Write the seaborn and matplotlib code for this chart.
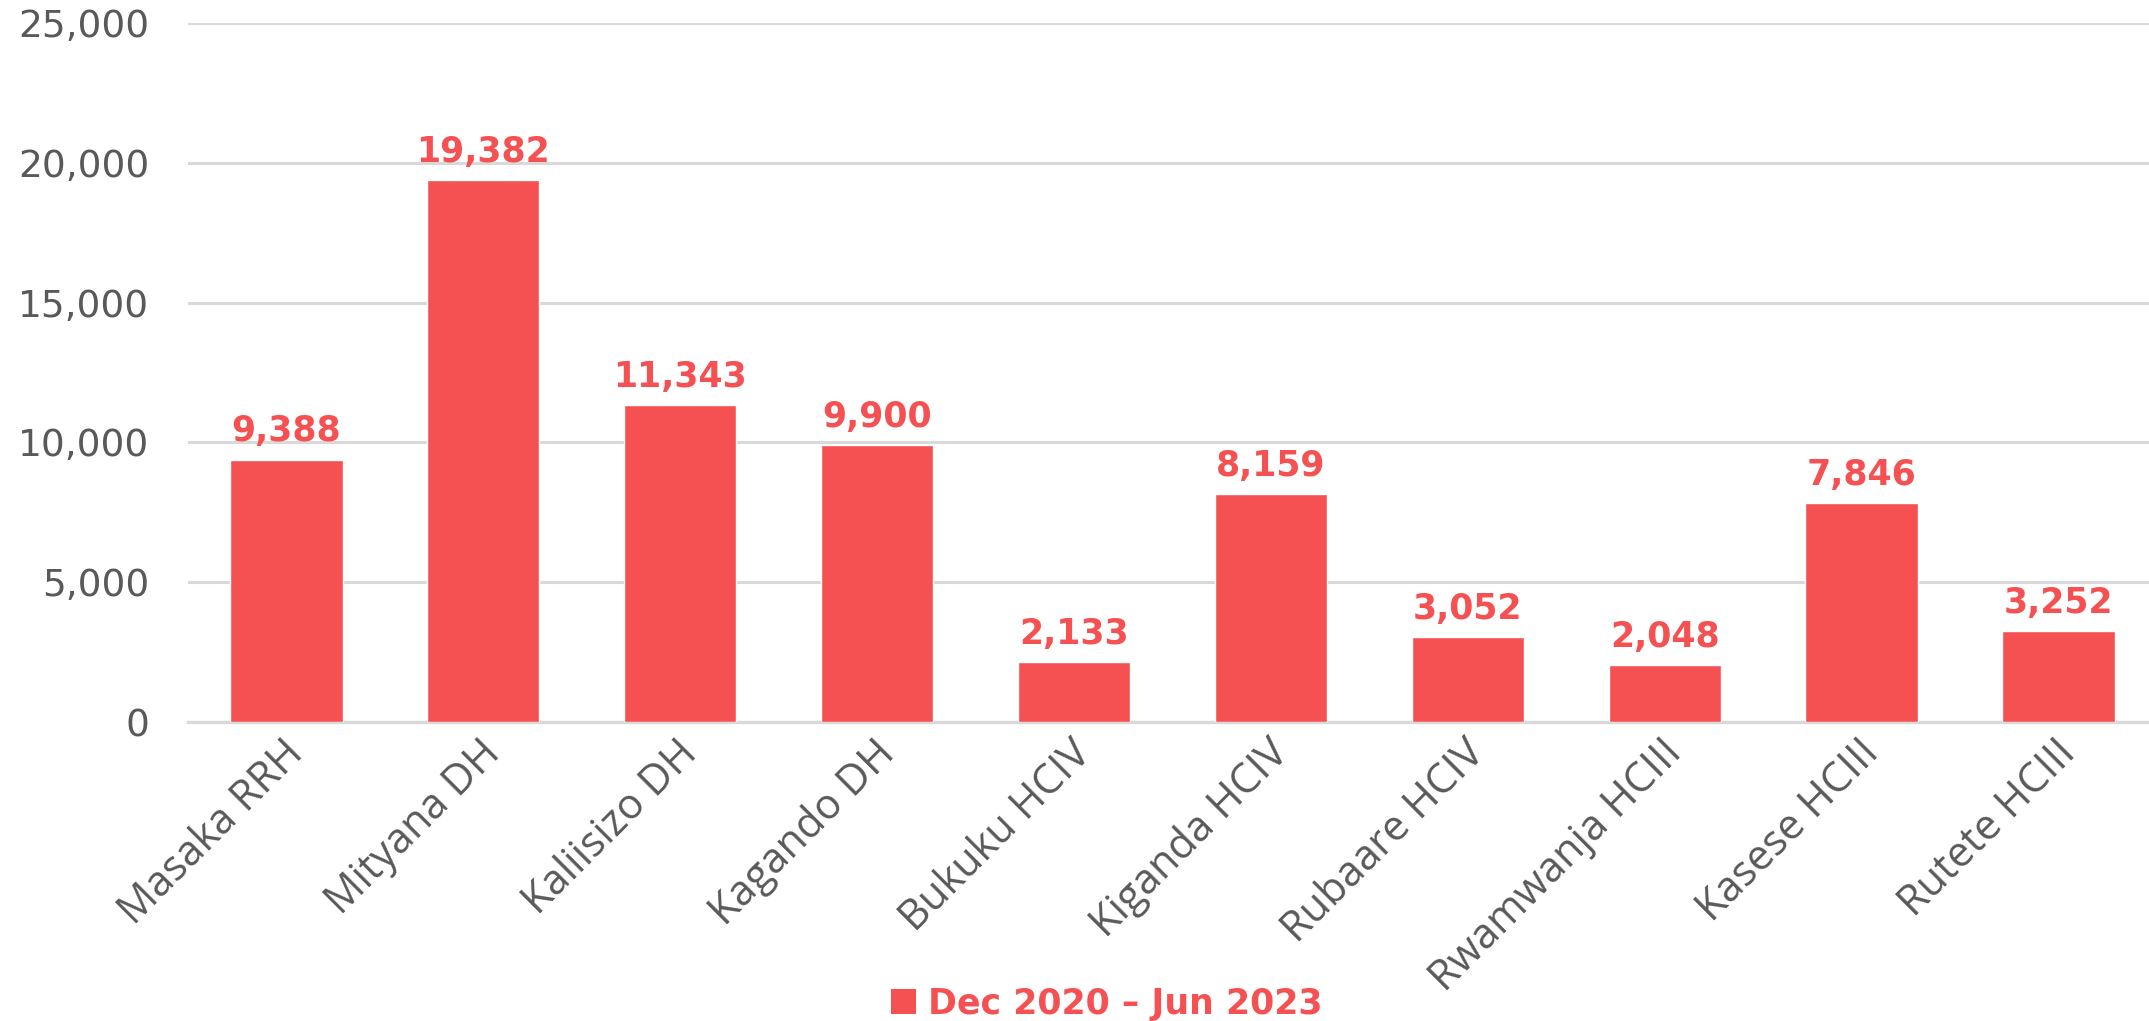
import matplotlib
matplotlib.use("Agg")
import matplotlib.pyplot as plt
import matplotlib.transforms as mtransforms
import seaborn as sns
import pandas as pd
from matplotlib.ticker import FuncFormatter
from matplotlib.patches import Patch

categories = ["Masaka RRH", "Mityana DH", "Kaliisizo DH", "Kagando DH", "Bukuku HCIV",
              "Kiganda HCIV", "Rubaare HCIV", "Rwamwanja HCIII", "Kasese HCIII", "Rutete HCIII"]
values = [9388, 19382, 11343, 9900, 2133, 8159, 3052, 2048, 7846, 3252]
series_name = "Dec 2020 \u2013 Jun 2023"
y_ticks = [0, 5000, 10000, 15000, 20000, 25000]

BAR = "#F55152"
GRID = "#D9D9D9"
TXT = "#595959"

sns.set_theme(style="white")
plt.rcParams["font.family"] = ["DejaVu Sans"]

df = pd.DataFrame({"site": categories, "count": values})

fig = plt.figure(figsize=(21.49, 10.21), dpi=100)
ax = fig.add_axes([188 / 2149, 1 - 722 / 1021, 1 - 188 / 2149, (722 - 23) / 1021])

sns.barplot(data=df, x="site", y="count", color=BAR, saturation=1, width=0.57,
            ax=ax, zorder=3)

ax.set_ylim(0, 25000)
ax.set_xlim(-0.5, 9.46)
ax.set_yticks(y_ticks)
ax.yaxis.set_major_formatter(FuncFormatter(lambda v, p: f"{int(v):,}"))
ax.grid(axis="y", color=GRID, linewidth=2.2, zorder=0)
ax.grid(axis="x", visible=False)
for s in ["top", "right", "left"]:
    ax.spines[s].set_visible(False)
ax.spines["bottom"].set_color(GRID)
ax.spines["bottom"].set_linewidth(2.4)
ax.set_xlabel("")
ax.set_ylabel("")

ax.tick_params(axis="y", length=0, pad=28, labelsize=27, labelcolor=TXT)
ax.tick_params(axis="x", length=0, pad=18)
ax.set_xticks(range(len(categories)))
ax.set_xticklabels(categories, rotation=45, ha="right", va="center", rotation_mode="anchor",
                   fontsize=30, color=TXT, family=["Open Sans", "DejaVu Sans"])
offset = mtransforms.ScaledTranslation(8 / 72, 0, fig.dpi_scale_trans)
for lbl in ax.get_xticklabels():
    lbl.set_transform(lbl.get_transform() + offset)

ax.bar_label(ax.containers[0], labels=[f"{v:,}" for v in values], padding=8,
             fontsize=25, fontweight="bold", color=BAR)

handles = [Patch(facecolor=BAR, edgecolor="none", label=series_name)]
leg = fig.legend(handles=handles, loc="center", bbox_to_anchor=(0.515, 0.017), frameon=False,
                 prop={"size": 25, "weight": "bold"}, handlelength=0.7, handleheight=0.7,
                 handletextpad=0.35)
for t in leg.get_texts():
    t.set_color(BAR)

fig.savefig("out.png", dpi=100)
